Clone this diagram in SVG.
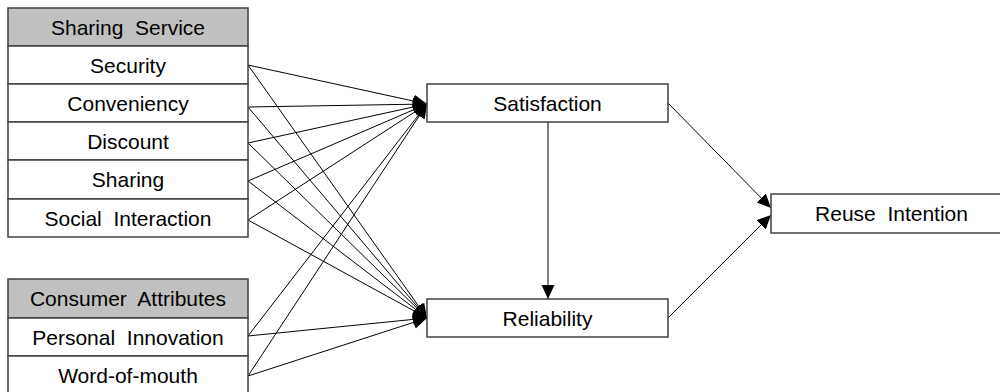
<svg xmlns="http://www.w3.org/2000/svg" width="1000" height="392" viewBox="0 0 1000 392">
<style>
.box{fill:#fff;stroke:#404040;stroke-width:1.5}
.hdr{fill:#c0c0c0;stroke:#404040;stroke-width:1.5}
.t{font-family:"Liberation Sans",Arial,sans-serif;font-size:21px;fill:#000;text-anchor:middle;dominant-baseline:central;white-space:pre}
.c{stroke:#000;stroke-width:1;fill:none;marker-end:url(#ah)}
</style>
<defs>
<marker id="ah" markerUnits="userSpaceOnUse" markerWidth="16" markerHeight="14" refX="14" refY="6.5" orient="auto">
<path d="M0,0 L14,6.5 L0,13 Z" fill="#000"/>
</marker>
</defs>
<rect width="1000" height="392" fill="#fff"/>
<g id="connectors">
<line class="c" x1="248" y1="65" x2="427" y2="104"/>
<line class="c" x1="248" y1="65" x2="427" y2="318"/>
<line class="c" x1="248" y1="107" x2="427" y2="104"/>
<line class="c" x1="248" y1="107" x2="427" y2="318"/>
<line class="c" x1="248" y1="143" x2="427" y2="104"/>
<line class="c" x1="248" y1="143" x2="427" y2="318"/>
<line class="c" x1="248" y1="181" x2="427" y2="104"/>
<line class="c" x1="248" y1="181" x2="427" y2="318"/>
<line class="c" x1="248" y1="220" x2="427" y2="104"/>
<line class="c" x1="248" y1="220" x2="427" y2="318"/>
<line class="c" x1="248" y1="336" x2="427" y2="104"/>
<line class="c" x1="248" y1="336" x2="427" y2="318"/>
<line class="c" x1="248" y1="376" x2="427" y2="104"/>
<line class="c" x1="248" y1="376" x2="427" y2="318"/>
<line class="c" x1="548" y1="122" x2="548" y2="299"/>
<line class="c" x1="668" y1="103" x2="771" y2="208"/>
<line class="c" x1="668" y1="318" x2="771" y2="215"/>
</g>
<g id="sharing-service">
<rect class="hdr" x="8" y="8" width="240" height="38"/>
<text class="t" x="128" y="27">Sharing  Service</text>
</g>
<g id="security">
<rect class="box" x="8" y="46" width="240" height="38"/>
<text class="t" x="128" y="65">Security</text>
</g>
<g id="conveniency">
<rect class="box" x="8" y="84" width="240" height="38"/>
<text class="t" x="128" y="103">Conveniency</text>
</g>
<g id="discount">
<rect class="box" x="8" y="122" width="240" height="38"/>
<text class="t" x="128" y="141">Discount</text>
</g>
<g id="sharing">
<rect class="box" x="8" y="160" width="240" height="39"/>
<text class="t" x="128" y="179.5">Sharing</text>
</g>
<g id="social-interaction">
<rect class="box" x="8" y="199" width="240" height="38"/>
<text class="t" x="128" y="218">Social  Interaction</text>
</g>
<g id="consumer-attributes">
<rect class="hdr" x="8" y="279" width="240" height="39"/>
<text class="t" x="128" y="298.5">Consumer  Attributes</text>
</g>
<g id="personal-innovation">
<rect class="box" x="8" y="318" width="240" height="38"/>
<text class="t" x="128" y="337">Personal  Innovation</text>
</g>
<g id="word-of-mouth">
<rect class="box" x="8" y="356" width="240" height="38"/>
<text class="t" x="128" y="375">Word-of-mouth</text>
</g>
<g id="satisfaction">
<rect class="box" x="427" y="84" width="241" height="38"/>
<text class="t" x="547.5" y="103">Satisfaction</text>
</g>
<g id="reliability">
<rect class="box" x="427" y="299" width="241" height="38"/>
<text class="t" x="547.5" y="318">Reliability</text>
</g>
<g id="reuse-intention">
<rect class="box" x="771" y="194" width="242" height="39"/>
<text class="t" x="891.5" y="213.5">Reuse  Intention</text>
</g>
</svg>
